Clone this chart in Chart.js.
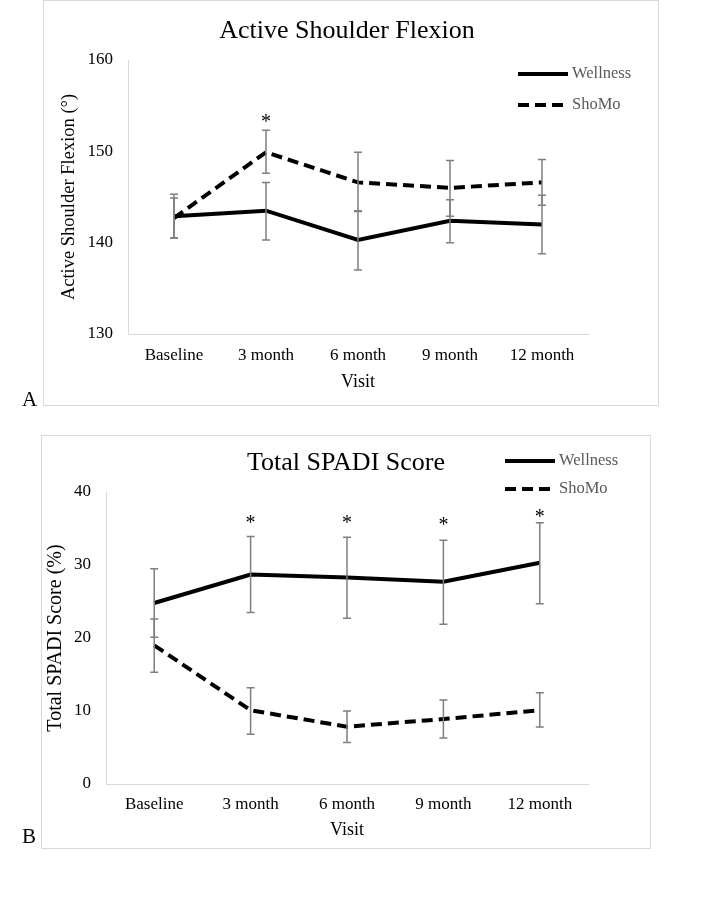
<!DOCTYPE html>
<html>
<head>
<meta charset="utf-8">
<script src="https://cdn.jsdelivr.net/npm/chart.js@4.4.1/dist/chart.umd.min.js"></script>
<style>
    html, body { margin: 0; padding: 0; background: #fff; }
    body { width: 706px; height: 899px; position: relative; overflow: hidden; font-family: 'Liberation Serif', serif; }
    .frame { position: absolute; border: 1px solid #d9d9d9; box-sizing: border-box; }
    .panel { position: absolute; left: 0; }
    .tag { position: absolute; font-size: 21px; color: #000; line-height: 1; }
</style>
</head>
<body>
<div class="frame" style="left:43px; top:0; width:616px; height:406px;"></div>
<div class="frame" style="left:41px; top:435px; width:610px; height:414px;"></div>
<canvas id="flexion" class="panel" width="706" height="420" style="top:0;"></canvas>
<canvas id="spadi" class="panel" width="706" height="430" style="top:430px;"></canvas>
<div class="tag" style="left:22px; top:389px;">A</div>
<div class="tag" style="left:22px; top:826px;">B</div>
<script>
'use strict';

var visits = ['Baseline', '3 month', '6 month', '9 month', '12 month'];

// Panel A: active shoulder flexion (degrees), mean with error bar limits
var flexWellness = [142.9, 143.5, 140.3, 142.4, 142.0];
var flexWellnessHi = [145.3, 146.6, 143.5, 144.7, 145.2];
var flexWellnessLo = [140.5, 140.3, 137.0, 140.0, 138.8];
var flexShomo = [142.7, 149.9, 146.6, 146.0, 146.6];
var flexShomoHi = [144.9, 152.3, 149.9, 149.0, 149.1];
var flexShomoLo = [140.5, 147.6, 143.4, 142.9, 144.1];
var flexStars = [null, 153.6, null, null, null];
var flexTicks = [130, 140, 150, 160];

// Panel B: total SPADI score (%)
var spadiWellness = [24.8, 28.7, 28.3, 27.7, 30.3];
var spadiWellnessHi = [29.5, 33.9, 33.8, 33.4, 35.8];
var spadiWellnessLo = [20.1, 23.5, 22.7, 21.9, 24.7];
var spadiShomo = [19.0, 10.1, 7.85, 8.9, 10.1];
var spadiShomoHi = [22.6, 13.2, 10.0, 11.5, 12.5];
var spadiShomoLo = [15.3, 6.8, 5.7, 6.3, 7.8];
var spadiStars = [null, 36.2, 36.2, 35.9, 37.0];
var spadiTicks = [0, 10, 20, 30, 40];

var FONT = 'Liberation Serif';

/**
 * Draws error bars, significance stars, the panel title and the legend.
 */
var decorations = {
    id: 'decorations',
    afterDatasetsDraw: function (chart, args, opts) {
        var ctx = chart.ctx,
            x = chart.scales.x,
            y = chart.scales.y;

        ctx.save();
        ctx.strokeStyle = '#7f7f7f';
        ctx.lineWidth = 1.5;
        opts.bars.forEach(function (bar) {
            bar.hi.forEach(function (hi, i) {
                var px = x.getPixelForValue(i),
                    top = y.getPixelForValue(hi),
                    bottom = y.getPixelForValue(bar.lo[i]);
                ctx.beginPath();
                ctx.moveTo(px, top);
                ctx.lineTo(px, bottom);
                ctx.moveTo(px - 4, top);
                ctx.lineTo(px + 4, top);
                ctx.moveTo(px - 4, bottom);
                ctx.lineTo(px + 4, bottom);
                ctx.stroke();
            });
        });

        ctx.fillStyle = '#000';
        ctx.font = '20px "' + FONT + '"';
        ctx.textAlign = 'center';
        ctx.textBaseline = 'middle';
        opts.stars.forEach(function (v, i) {
            if (v === null) {
                return;
            }
            ctx.fillText('*', x.getPixelForValue(i), y.getPixelForValue(v) + 4);
        });

        ctx.font = '26px "' + FONT + '"';
        ctx.fillText(opts.title, opts.titleX, opts.titleY);

        // legend: line sample then label
        ctx.font = '16.5px "' + FONT + '"';
        ctx.textAlign = 'left';
        opts.legend.forEach(function (item, i) {
            var ly = opts.legendY[i];
            ctx.beginPath();
            ctx.strokeStyle = '#000';
            ctx.lineWidth = 4;
            ctx.setLineDash(item.dash);
            ctx.moveTo(opts.legendX, ly);
            ctx.lineTo(opts.legendX + 50, ly);
            ctx.stroke();
            ctx.setLineDash([]);
            ctx.fillStyle = '#595959';
            ctx.fillText(item.label, opts.legendX + 54, ly);
        });
        ctx.restore();
    }
};

function series(label, data, dash) {
    return {
        label: label,
        data: data,
        borderColor: '#000',
        borderWidth: 4,
        borderDash: dash,
        pointRadius: 0,
        tension: 0,
        fill: false
    };
}

/**
 * Build one panel; `g` holds the geometry of that panel.
 * Tick mark length (8px) still counts towards label spacing even with the grid hidden.
 */
function makeChart(id, wellness, shomo, ticks, yTitle, g) {
    return new Chart(document.getElementById(id), {
        type: 'line',
        data: {
            labels: visits,
            datasets: [
                series('Wellness', wellness, []),
                series('ShoMo', shomo, [11, 6])
            ]
        },
        plugins: [decorations],
        options: {
            responsive: false,
            animation: false,
            layout: { padding: g.padding },
            scales: {
                x: {
                    offset: true,
                    grid: { display: false },
                    border: { display: true, color: '#d9d9d9', width: 1 },
                    ticks: { color: '#000', padding: g.xPad, font: { family: FONT, size: 17 } },
                    title: { display: true, text: 'Visit', color: '#000', font: { family: FONT, size: 18 } },
                    afterFit: function (s) { s.height = g.xHeight; }
                },
                y: {
                    min: ticks[0],
                    max: ticks[ticks.length - 1],
                    afterBuildTicks: function (s) {
                        s.ticks = ticks.map(function (v) { return { value: v }; });
                    },
                    grid: { display: false },
                    border: { display: true, color: '#d9d9d9', width: 1 },
                    ticks: { color: '#000', padding: 7, font: { family: FONT, size: 17 } },
                    title: { display: true, text: yTitle, color: '#000', font: { family: FONT, size: g.yTitleSize } },
                    afterFit: function (s) { s.width = g.yWidth; }
                }
            },
            plugins: {
                legend: { display: false },
                tooltip: { enabled: false },
                decorations: g.deco
            }
        }
    });
}

makeChart('flexion', flexWellness, flexShomo, flexTicks, 'Active Shoulder Flexion (°)', {
    padding: { left: 54, top: 60, right: 118, bottom: 23 },
    yWidth: 74,
    xHeight: 63,
    xPad: 3,
    yTitleSize: 18.5,
    deco: {
        bars: [
            { hi: flexWellnessHi, lo: flexWellnessLo },
            { hi: flexShomoHi, lo: flexShomoLo }
        ],
        stars: flexStars,
        title: 'Active Shoulder Flexion',
        titleX: 347,
        titleY: 31,
        legend: [{ label: 'Wellness', dash: [] }, { label: 'ShoMo', dash: [11, 6] }],
        legendX: 518,
        legendY: [74, 105]
    }
});

makeChart('spadi', spadiWellness, spadiShomo, spadiTicks, 'Total SPADI Score (%)', {
    padding: { left: 40, top: 62, right: 118, bottom: 15 },
    yWidth: 66,
    xHeight: 61,
    xPad: 2,
    yTitleSize: 20,
    deco: {
        bars: [
            { hi: spadiWellnessHi, lo: spadiWellnessLo },
            { hi: spadiShomoHi, lo: spadiShomoLo }
        ],
        stars: spadiStars,
        title: 'Total SPADI Score',
        titleX: 346,
        titleY: 33,
        legend: [{ label: 'Wellness', dash: [] }, { label: 'ShoMo', dash: [11, 6] }],
        legendX: 505,
        legendY: [31, 59]
    }
});
</script>
</body>
</html>
